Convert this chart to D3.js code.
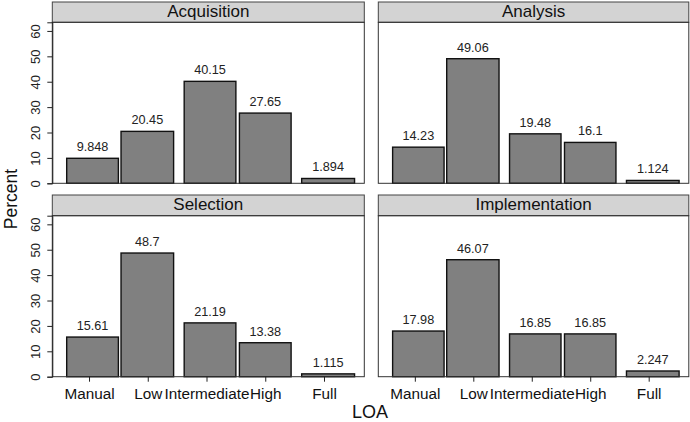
<!DOCTYPE html>
<html>
<head>
<meta charset="utf-8">
<script src="https://cdn.jsdelivr.net/npm/d3@7"></script>
<style>
  body { margin: 0; background: #fff; }
  text { font-family: "Liberation Sans", Arial, sans-serif; }
</style>
</head>
<body>
<div id="chart"></div>
<script>
// LOA categories and where each histogram bin sits on the LOA axis
const categories = ["Manual", "Low", "Intermediate", "High", "Full"];
const tickValues = [1, 2, 3, 4, 5];
const binLo = [0.62, 1.545, 2.62, 3.56, 4.62];
const binHi = [1.5, 2.44, 3.5, 4.44, 5.52];

const stages = ["Acquisition", "Analysis", "Selection", "Implementation"];
const acquisition = [9.848, 20.45, 40.15, 27.65, 1.894];
const analysis = [14.23, 49.06, 19.48, 16.1, 1.124];
const selection = [15.61, 48.7, 21.19, 13.38, 1.115];
const implementation = [17.98, 46.07, 16.85, 16.85, 2.247];
const yTicks = [0, 10, 20, 30, 40, 50, 60];

const seriesByStage = [acquisition, analysis, selection, implementation];

const width = 690, height = 422;
const svg = d3.select("#chart").append("svg")
  .attr("width", width)
  .attr("height", height);

// panel geometry
const cols = [{ x0: 52.3, x1: 364.3 }, { x0: 378.3, x1: 688.8 }];
const rows = [{ s0: 2, p0: 22.3, p1: 183.3 }, { s0: 195, p0: 215.7, p1: 376.7 }];
const fmt = d3.format(".4~g");

stages.forEach((stage, i) => {
  const c = cols[i % 2], r = rows[Math.floor(i / 2)];
  const vals = seriesByStage[i];

  const x = d3.scaleLinear().domain([0.375, 5.686]).range([c.x0, c.x1]);
  const y = d3.scaleLinear().domain([0, 63.4]).range([r.p1, r.p0]);

  const g = svg.append("g");

  // strip header
  g.append("rect")
    .attr("x", c.x0).attr("y", r.s0)
    .attr("width", c.x1 - c.x0).attr("height", r.p0 - r.s0)
    .attr("fill", "#d3d3d3")
    .attr("stroke", "#444").attr("stroke-width", 1);
  g.append("text")
    .attr("x", (c.x0 + c.x1) / 2)
    .attr("y", r.s0 + 15)
    .attr("text-anchor", "middle")
    .style("font-size", "17px")
    .style("fill", "#111")
    .text(stage);

  // bars
  const data = vals.map((v, k) => ({ lo: binLo[k], hi: binHi[k], v: v }));
  g.selectAll("rect.bar")
    .data(data)
    .enter().append("rect")
    .attr("class", "bar")
    .attr("x", d => x(d.lo))
    .attr("y", d => y(d.v))
    .attr("width", d => x(d.hi) - x(d.lo))
    .attr("height", d => y(0) - y(d.v))
    .attr("fill", "#808080")
    .attr("stroke", "#111")
    .attr("stroke-width", 1.4);

  g.selectAll("text.lab")
    .data(data)
    .enter().append("text")
    .attr("class", "lab")
    .attr("x", d => (x(d.lo) + x(d.hi)) / 2)
    .attr("y", d => y(d.v) - 7)
    .attr("text-anchor", "middle")
    .style("font-size", "12.7px")
    .style("fill", "#222")
    .text(d => fmt(d.v));

  // plot frame
  g.append("rect")
    .attr("x", c.x0).attr("y", r.p0)
    .attr("width", c.x1 - c.x0).attr("height", r.p1 - r.p0)
    .attr("fill", "none")
    .attr("stroke", "#333").attr("stroke-width", 1);

  // y axis on left column only
  if (i % 2 === 0) {
    const ya = g.append("g")
      .attr("transform", `translate(${c.x0},0)`)
      .call(d3.axisLeft(y).tickValues(yTicks).tickSize(5).tickPadding(5));
    ya.select(".domain").attr("stroke", "#222");
    ya.selectAll(".tick line").attr("stroke", "#222");
    ya.selectAll(".tick text")
      .attr("transform", "rotate(-90)")
      .attr("x", 0)
      .attr("y", -17)
      .attr("dy", "0.35em")
      .attr("text-anchor", "middle")
      .style("font-size", "13px")
      .style("fill", "#222");
  }

  // x axis on bottom row only
  if (r === rows[1]) {
    const xa = g.append("g")
      .attr("transform", `translate(0,${r.p1})`)
      .call(d3.axisBottom(x).tickValues(tickValues)
        .tickFormat((d, k) => categories[k]).tickSize(5).tickPadding(6));
    xa.select(".domain").remove();
    xa.selectAll(".tick line").attr("stroke", "#222");
    xa.selectAll(".tick text")
      .style("font-size", "15.3px")
      .style("fill", "#111");
  }
});

// axis titles
svg.append("text")
  .attr("transform", "translate(16.5,199) rotate(-90)")
  .attr("text-anchor", "middle")
  .style("font-size", "17.5px")
  .style("fill", "#111")
  .text("Percent");

svg.append("text")
  .attr("x", 370)
  .attr("y", 418)
  .attr("text-anchor", "middle")
  .style("font-size", "18px")
  .style("fill", "#111")
  .text("LOA");
</script>
</body>
</html>
